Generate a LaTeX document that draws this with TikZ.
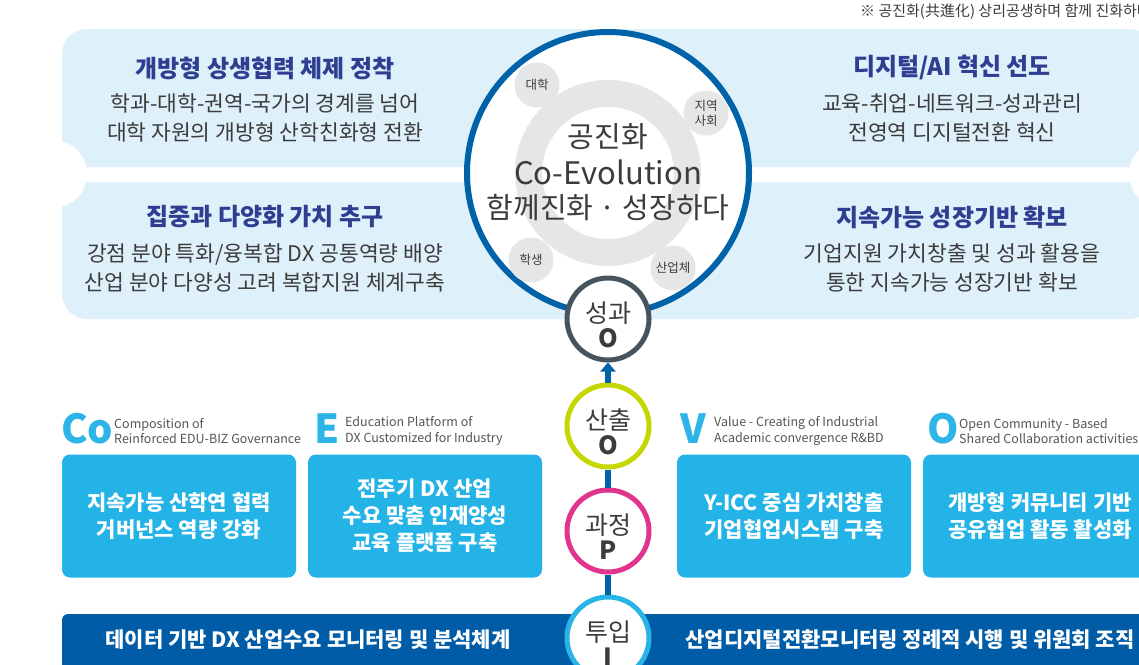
\documentclass[tikz,border=0pt]{standalone}
\usepackage{fontspec}
\setmainfont{Noto Sans CJK KR}
\usetikzlibrary{arrows.meta}
\definecolor{panelbg}{HTML}{DEF0FA}
\definecolor{titleblue}{HTML}{2E3F92}
\definecolor{bodytext}{HTML}{3C3C3C}
\definecolor{ringblue}{HTML}{0062A8}
\definecolor{ringgray}{HTML}{E5E6E8}
\definecolor{boxcyan}{HTML}{23B3E7}
\definecolor{lettercyan}{HTML}{2DB5E8}
\definecolor{smallgray}{HTML}{555555}
\definecolor{barblue}{HTML}{005CA6}
\definecolor{cO}{HTML}{46545E}
\definecolor{cOut}{HTML}{C6D600}
\definecolor{cP}{HTML}{E2348C}
\definecolor{cI}{HTML}{28B4E7}
\tikzset{
  ptitle/.style={text=titleblue, font=\bfseries\fontsize{24}{28}\selectfont},
  pbody/.style={text=bodytext, align=center, font=\fontsize{21.5}{29}\selectfont},
  member/.style={circle, fill=ringgray, minimum size=45pt, inner sep=0pt, text=bodytext, align=center, font=\fontsize{12.5}{15}\selectfont},
  coretext/.style={text=bodytext, font=\fontsize{29}{31}\selectfont},
  stage/.style={circle, draw=#1, line width=5pt, fill=white, minimum size=82pt, inner sep=0pt},
  stagetext/.style={text=bodytext, align=center, inner sep=0pt, font=\fontsize{25}{25}\selectfont},
  bigletter/.style={text=lettercyan, anchor=west, inner sep=0pt, font=\bfseries\fontsize{40}{40}\selectfont},
  smalltext/.style={text=smallgray, anchor=west, inner sep=0pt, align=left, font=\fontsize{12.5}{15.5}\selectfont},
  cbox/.style={fill=boxcyan, rounded corners=8pt, minimum width=234pt, minimum height=123pt, inner sep=0pt, text=white, align=center, font=\bfseries\fontsize{21}{27}\selectfont},
  bartext/.style={text=white, font=\bfseries\fontsize{21}{24}\selectfont},
  conn/.style={draw=ringblue, line width=6pt},
}
\begin{document}
\begin{tikzpicture}[x=1pt,y=-1pt]
\useasboundingbox (0,0) rectangle (1139,664);
% background panels
\fill[panelbg, rounded corners=25pt] (62,29) rectangle (1154,167);
\fill[panelbg, rounded corners=25pt] (62,182) rectangle (1154,319);
\fill[white] (53,174) circle[radius=34pt];
\fill[white] (1163,174) circle[radius=34pt];
% note
\node[anchor=west, text=bodytext, inner sep=0pt, font=\fontsize{15}{17}\selectfont] (note) at (860,12) {※ 공진화(共進化) 상리공생하며 함께 진화하다};
% panel texts
\node[ptitle] (t1) at (265,68) {개방형 상생협력 체제 정착};
\node[pbody] (b1) at (265,117.5) {학과-대학-권역-국가의 경계를 넘어\\대학 자원의 개방형 산학친화형 전환};
\node[ptitle] (t2) at (265,217) {집중과 다양화 가치 추구};
\node[pbody] (b2) at (265,267.5) {강점 분야 특화/융복합 DX 공통역량 배양\\산업 분야 다양성 고려 복합지원 체계구축};
\node[ptitle] (t3) at (952,67) {디지털/AI 혁신 선도};
\node[pbody] (b3) at (952,117.5) {교육-취업-네트워크-성과관리\\전영역 디지털전환 혁신};
\node[ptitle] (t4) at (952,217) {지속가능 성장기반 확보};
\node[pbody] (b4) at (952,267.5) {기업지원 가치창출 및 성과 활용을\\통한 지속가능 성장기반 확보};
% core circle
\node[circle, draw=ringblue, line width=6pt, fill=white, minimum size=282pt, inner sep=0pt] (core) at (608,173) {};
\draw[ringgray, line width=27pt] (core.center) circle[radius=79.5pt];
\node[member] (m1) at (537,85) {대학};
\node[member] (m2) at (706,113) {지역\\사회};
\node[member] (m3) at (531,260) {학생};
\node[member] (m4) at (673,268) {산업체};
\node[coretext] (c1) at (608,137) {공진화};
\node[coretext, font=\fontsize{31}{33}\selectfont] (c2) at (608,172) {Co-Evolution};
\node[coretext] (c3) at (608,208) {함께진화 · 성장하다};
% bottom bar
\fill[barblue, rounded corners=6pt] (62,614) rectangle (1160,690);
\node[bartext] (bar1) at (308,640) {데이터 기반 DX 산업수요 모니터링 및 분석체계};
\node[bartext] (bar2) at (910,640) {산업디지털전환모니터링 정례적 시행 및 위원회 조직};
% headers
\node[bigletter] (Lco) at (61,429) {Co};
\node[smalltext] (Sco) at (114,431) {Composition of\\Reinforced EDU-BIZ Governance};
\node[bigletter] (Le) at (314,429) {E};
\node[smalltext] (Se) at (345,431) {Education Platform of\\DX Customized for Industry};
\node[bigletter] (Lv) at (680,429) {V};
\node[smalltext] (Sv) at (714,431) {Value - Creating of Industrial\\Academic convergence R\&BD};
\node[bigletter] (Lo) at (927,429) {O};
\node[smalltext] (So) at (959,431) {Open Community - Based\\Shared Collaboration activities};
% boxes
\node[cbox] (x1) at (179,516) {지속가능 산학연 협력\\거버넌스 역량 강화};
\node[cbox] (x2) at (425,516) {전주기 DX 산업\\수요 맞춤 인재양성\\교육 플랫폼 구축};
\node[cbox] (x3) at (794,516) {Y-ICC 중심 가치창출\\기업협업시스템 구축};
\node[cbox] (x4) at (1040,516) {개방형 커뮤니티 기반\\공유협업 활동 활성화};
% stages
\node[stage=cO] (so) at (608,319) {};
\node[stage=cOut] (sout) at (608,426) {};
\node[stage=cP] (sp) at (608,531) {};
\node[stage=cI] (si) at (608,638) {};
\node[stagetext] (soT) at ([yshift=-6pt]so.center) {성과\\\textbf{O}};
\node[stagetext] (soutT) at ([yshift=-6pt]sout.center) {산출\\\textbf{O}};
\node[stagetext] (spT) at ([yshift=-6pt]sp.center) {과정\\\textbf{P}};
\node[stagetext] (siT) at ([yshift=-6pt]si.center) {투입\\\textbf{I}};
\draw[conn] (si) -- (sp);
\draw[conn] (sp) -- (sout);
\draw[conn, -{Triangle[width=15pt,length=9pt]}] (sout) -- (so);
\end{tikzpicture}
\end{document}
